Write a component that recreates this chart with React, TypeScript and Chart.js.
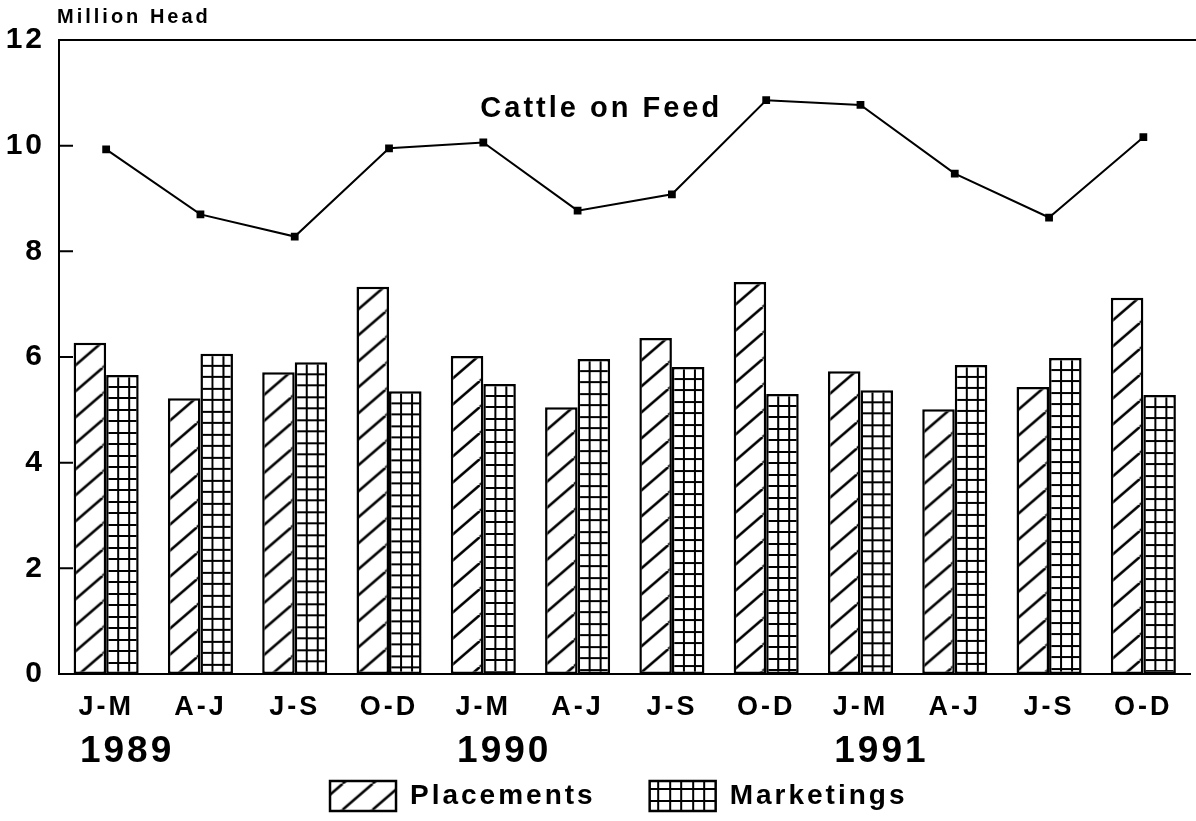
import React, { useEffect, useRef } from 'react';
import { Chart, registerables } from 'chart.js';

Chart.register(...registerables);

// ---- data ----
const categories = ['J-M', 'A-J', 'J-S', 'O-D', 'J-M', 'A-J', 'J-S', 'O-D', 'J-M', 'A-J', 'J-S', 'O-D'];
const years = ['1989', '1990', '1991'];
const yearStartIndex = [0, 4, 8];
const placements = [6.27, 5.22, 5.71, 7.33, 6.02, 5.05, 6.36, 7.42, 5.73, 5.01, 5.43, 7.12];
const marketings = [5.66, 6.06, 5.9, 5.35, 5.49, 5.96, 5.81, 5.3, 5.37, 5.85, 5.98, 5.28];
const cattleOnFeed = [9.93, 8.7, 8.28, 9.95, 10.06, 8.77, 9.08, 10.86, 10.77, 9.47, 8.64, 10.16];
const yMin = 0;
const yMax = 12;
const yStep = 2;
const unitLabel = 'Million Head';
const lineLabel = 'Cattle on Feed';

const FONT = '"Liberation Sans", Arial, Helvetica, sans-serif';
const SPACING = '3px';
const CAT_PCT = 0.69;

function makeHatchTile() {
  const c = document.createElement('canvas');
  c.width = 30;
  c.height = 26;
  const g = c.getContext('2d')!;
  g.fillStyle = '#fff';
  g.fillRect(0, 0, 30, 26);
  g.strokeStyle = '#000';
  g.lineWidth = 2.5;
  g.beginPath();
  for (const k of [-1, 0, 1]) {
    g.moveTo(k * 30, 26);
    g.lineTo(k * 30 + 30, 0);
  }
  g.stroke();
  return c;
}

function makeGridTile() {
  const c = document.createElement('canvas');
  c.width = 23;
  c.height = 23;
  const g = c.getContext('2d')!;
  g.fillStyle = '#fff';
  g.fillRect(0, 0, 23, 23);
  g.fillStyle = '#000';
  g.fillRect(0, 0, 2, 23);
  g.fillRect(12, 0, 2, 23);
  g.fillRect(0, 0, 23, 2);
  g.fillRect(0, 12, 23, 2);
  return c;
}

const setSpacing = (chart: any) => {
  try {
    (chart.ctx as any).letterSpacing = SPACING;
  } catch (e) {}
};

const decorPlugin = {
  id: 'decor',
  beforeUpdate: setSpacing,
  beforeLayout: setSpacing,
  beforeDraw: setSpacing,
  afterLayout(chart: any) {
    const lg = chart.legend;
    if (lg) {
      lg.left -= 6;
      lg.right -= 6;
    }
  },
  beforeDatasetsDraw(chart: any) {
    const { ctx, chartArea } = chart;
    const ys = chart.scales.y;
    ctx.save();
    ctx.strokeStyle = '#000';
    ctx.lineWidth = 2;
    ctx.beginPath();
    ys.ticks.forEach((t: any) => {
      if (t.value > yMin && t.value < yMax) {
        const y = ys.getPixelForValue(t.value);
        ctx.moveTo(chartArea.left, y);
        ctx.lineTo(chartArea.left + 14, y);
      }
    });
    ctx.stroke();
    ctx.restore();
  },
  afterDraw(chart: any) {
    const { ctx, chartArea } = chart;
    const xs = chart.scales.x;
    const ys = chart.scales.y;
    ctx.save();
    (ctx as any).letterSpacing = SPACING;
    // top frame line
    ctx.strokeStyle = '#000';
    ctx.lineWidth = 2;
    ctx.beginPath();
    ctx.moveTo(chartArea.left - 1, chartArea.top);
    ctx.lineTo(chart.width, chartArea.top);
    ctx.stroke();

    ctx.fillStyle = '#000';
    ctx.textAlign = 'left';
    ctx.textBaseline = 'alphabetic';
    // unit label
    ctx.font = `bold 20px ${FONT}`;
    ctx.fillText(unitLabel, chartArea.left - 2, chartArea.top - 17);
    // line annotation
    ctx.font = `bold 29px ${FONT}`;
    ctx.fillText(lineLabel, xs.getPixelForValue(4) - 3, ys.getPixelForValue(10.54));
    // years
    ctx.font = `bold 27px ${FONT}`;
    const starts = yearStartIndex.map((i) => {
      const w = ctx.measureText(categories[i]).width - 3;
      return xs.getPixelForValue(i) - w / 2;
    });
    ctx.font = `bold 37px ${FONT}`;
    years.forEach((yr, k) => {
      ctx.fillText(yr, starts[k], chartArea.bottom + 88);
    });
    ctx.restore();
  },
};

export default function App() {
  const ref = useRef<HTMLCanvasElement>(null);

  useEffect(() => {
    const canvas = ref.current!;
    const g = canvas.getContext('2d')!;
    const hatchTile = makeHatchTile();
    const gridTile = makeGridTile();

    const pat = (tile: HTMLCanvasElement, x = 0, y = 0) => {
      const p = g.createPattern(tile, 'repeat')!;
      try {
        p.setTransform(new DOMMatrix([1, 0, 0, 1, x, y]));
      } catch (e) {}
      return p;
    };

    const barFill = (tile: HTMLCanvasElement, side: number) => (c: any) => {
      if (c.type !== 'data') return pat(tile);
      const xs = c.chart.scales.x;
      const ys = c.chart.scales.y;
      if (!xs || !ys || !xs.width) return pat(tile);
      const catW = (xs.right - xs.left) / categories.length;
      const barW = (catW * CAT_PCT) / 2;
      const left = xs.getPixelForValue(c.dataIndex) + side * barW;
      const top = ys.getPixelForValue(c.raw);
      return pat(tile, left - 1, top - 1);
    };

    const chart = new Chart(canvas, {
      type: 'bar',
      data: {
        labels: categories,
        datasets: [
          {
            type: 'bar',
            label: 'Placements',
            data: placements,
            backgroundColor: barFill(hatchTile, -1) as any,
            borderColor: '#000',
            borderWidth: 2.5,
            borderSkipped: false,
            categoryPercentage: CAT_PCT,
            barPercentage: 1,
            order: 2,
          },
          {
            type: 'bar',
            label: 'Marketings',
            data: marketings,
            backgroundColor: barFill(gridTile, 0) as any,
            borderColor: '#000',
            borderWidth: 2.5,
            borderSkipped: false,
            categoryPercentage: CAT_PCT,
            barPercentage: 1,
            order: 2,
          },
          {
            type: 'line',
            label: lineLabel,
            data: cattleOnFeed,
            borderColor: '#000',
            backgroundColor: '#000',
            borderWidth: 2,
            pointStyle: 'rect',
            pointRadius: 5.5,
            pointBackgroundColor: '#000',
            pointBorderColor: '#000',
            pointBorderWidth: 0,
            tension: 0,
            fill: false,
            order: 1,
          } as any,
        ],
      },
      options: {
        animation: false,
        responsive: true,
        maintainAspectRatio: false,
        color: '#000',
        layout: { padding: { left: 0, right: 2, top: 40, bottom: 0 } },
        plugins: {
          title: { display: false },
          tooltip: { enabled: false },
          legend: {
            position: 'bottom',
            fullSize: false,
            labels: {
              boxWidth: 66,
              boxHeight: 30,
              padding: 54,
              color: '#000',
              font: { size: 28, weight: 'bold', family: FONT },
              filter: (it: any) => it.datasetIndex < 2,
            },
          },
        },
        scales: {
          x: {
            grid: { display: false, drawTicks: false },
            border: { display: true, color: '#000', width: 2 },
            ticks: {
              color: '#000',
              padding: 17,
              maxRotation: 0,
              autoSkip: false,
              font: { size: 27, weight: 'bold', family: FONT },
            },
            afterFit: (s: any) => {
              s.height = 53;
            },
          },
          y: {
            min: yMin,
            max: yMax,
            grid: { display: false, drawTicks: false },
            border: { display: true, color: '#000', width: 2 },
            ticks: {
              stepSize: yStep,
              color: '#000',
              padding: 14,
              font: { size: 30, weight: 'bold', family: FONT },
            },
            afterFit: (s: any) => {
              s.width = 59;
            },
          },
        },
      },
      plugins: [decorPlugin],
    });

    return () => chart.destroy();
  }, []);

  return (
    <div style={{ position: 'fixed', left: 0, top: 0, width: 1196, height: 821, background: '#fff' }}>
      <canvas ref={ref} />
    </div>
  );
}
